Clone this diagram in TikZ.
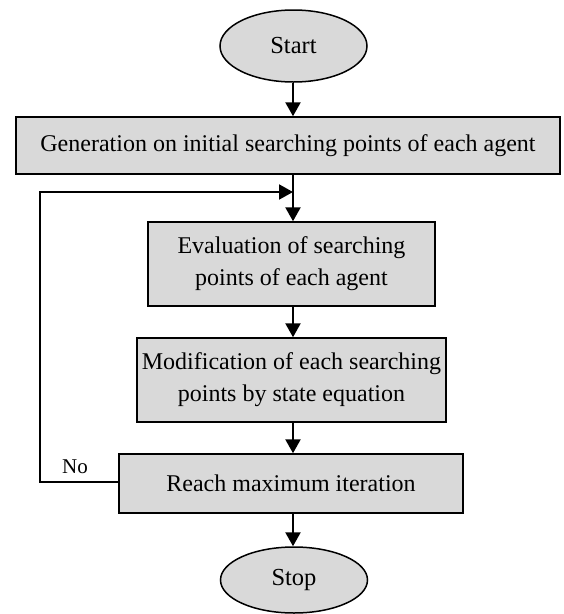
\documentclass[tikz,border=0pt]{standalone}
\usepackage{fontspec}
\setmainfont{Liberation Serif}
\usetikzlibrary{shapes.geometric,arrows.meta}
\definecolor{boxgray}{RGB}{217,217,217}
\tikzset{
  term/.style={ellipse,draw,line width=1.5pt,fill=boxgray,minimum width=147pt,minimum height=72pt,inner sep=0pt,font=\fontsize{24.5}{30}\selectfont},
  proc/.style={rectangle,draw,line width=1.5pt,fill=boxgray,inner sep=0pt,align=center,font=\fontsize{24}{32}\selectfont},
  flow/.style={line width=2.4pt,-{Triangle[length=14pt,width=15pt]}},
  back/.style={line width=2pt,-{Triangle[length=14pt,width=15pt]}},
}
\begin{document}
\begin{tikzpicture}[x=1pt,y=-1pt]
\useasboundingbox (0,0) rectangle (564,614);
\node[term] (start) at (293.5,46) {Start};
\node[proc,minimum width=544pt,minimum height=57pt] (gen) at (288,145.5) {Generation on initial searching points of each agent};
\node[proc,minimum width=287pt,minimum height=84pt] (eval) at (291.5,264) {Evaluation of searching\\points of each agent};
\node[proc,minimum width=309pt,minimum height=84pt] (mod) at (291.5,380) {Modification of each searching\\points by state equation};
\node[proc,minimum width=344pt,minimum height=59pt] (reach) at (291,483.5) {Reach maximum iteration};
\node[term,minimum height=66pt] (stop) at (294,580) {Stop};
\coordinate (j) at (293,192);
\coordinate (c1) at (40,482);
\coordinate (c2) at (40,192);
\draw[flow] (start.south -| j) -- (gen.north -| j);
\draw[line width=2.4pt] (gen.south -| j) -- (j);
\draw[flow] (j) -- (eval.north -| j);
\draw[flow] (eval.south -| j) -- (mod.north -| j);
\draw[flow] (mod.south -| j) -- (reach.north -| j);
\draw[flow] (reach.south -| j) -- (stop.north -| j);
\draw[back] (reach.west |- c1) -- (c1) -- (c2) -- (j);
\node[font=\fontsize{21}{24}\selectfont,anchor=base] (no) at (75,473) {No};
\end{tikzpicture}
\end{document}
